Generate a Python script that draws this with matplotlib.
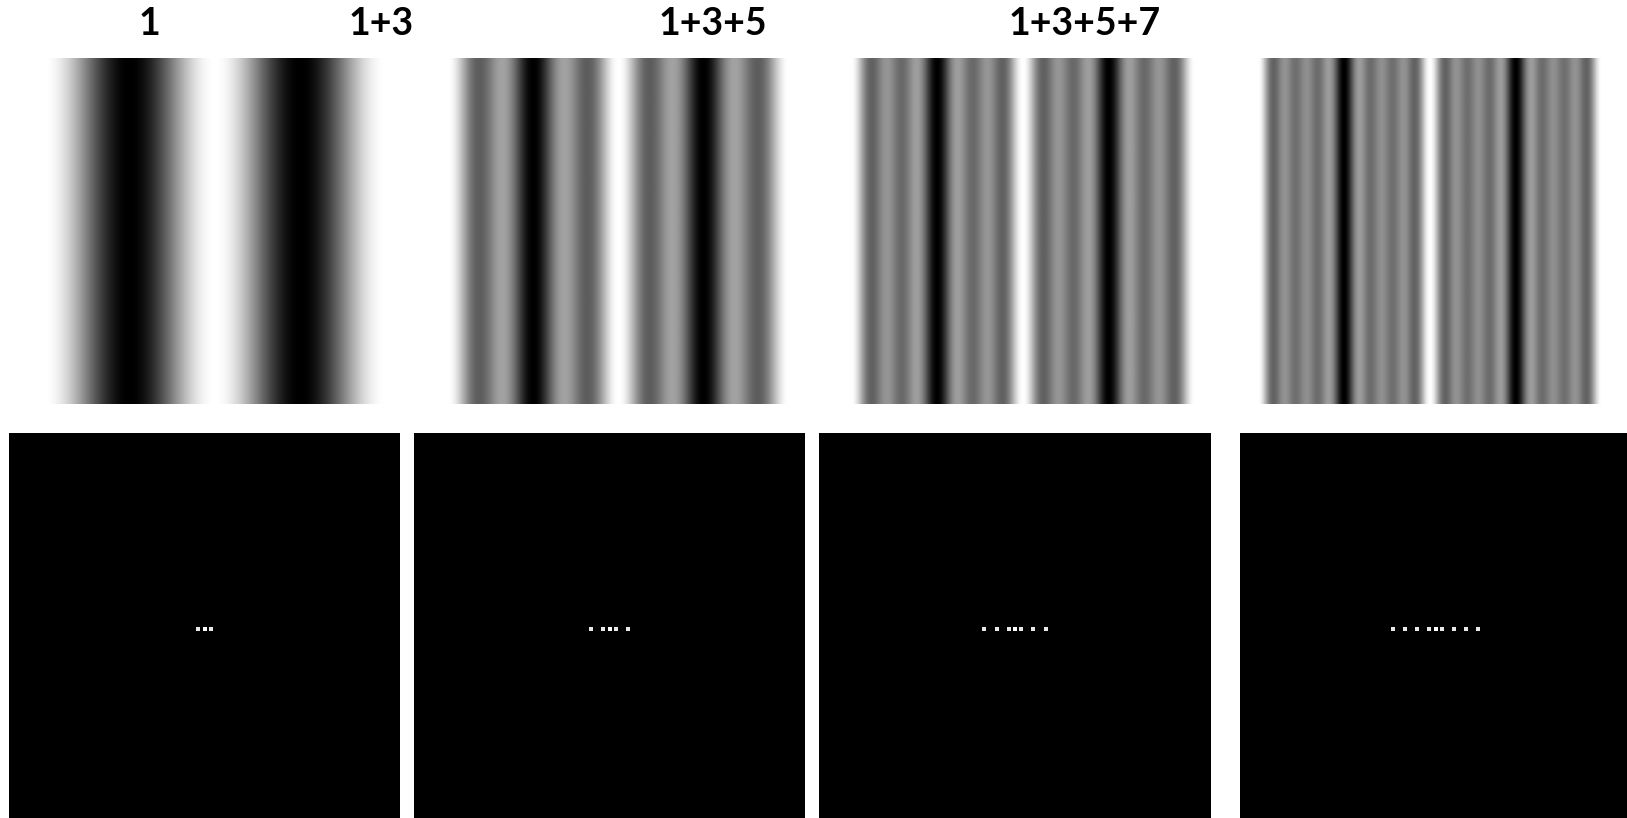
import numpy as np
import matplotlib
matplotlib.use("Agg")
import matplotlib.pyplot as plt

# ---- data ----
titles = ["1", "1+3", "1+3+5", "1+3+5+7"]
harmonics = [[1], [1, 3], [1, 3, 5], [1, 3, 5, 7]]
cycles_per_panel = 2          # fundamental cycles across each grating
title_x_px = [149, 381, 713, 1085]

W, H = 1627, 818
fig = plt.figure(figsize=(W / 100, H / 100), dpi=100)
fig.patch.set_facecolor("white")

def add_ax(x0, y0, x1, y1):
    return fig.add_axes([x0 / W, 1 - y1 / H, (x1 - x0) / W, (y1 - y0) / H])

top_boxes = [(44, 58, 386, 404), (448, 58, 789, 404), (851, 58, 1195, 404), (1258, 58, 1601, 404)]
bot_boxes = [(9, 433, 400, 824), (414, 433, 805, 824), (819, 433, 1211, 824), (1240, 433, 1631, 824)]

x = np.linspace(0, 1, 600)
for i, harm in enumerate(harmonics):
    theta = 2 * np.pi * cycles_per_panel * x
    prof = np.zeros_like(x)
    for h in harm:
        prof += np.cos(h * theta)
    n = len(harm)
    prof = (prof + n) / (2 * n)
    img = np.tile(prof, (20, 1))
    ax = add_ax(*top_boxes[i])
    ax.imshow(img, cmap="gray", vmin=0, vmax=1, aspect="auto", interpolation="bilinear")
    ax.set_axis_off()

    # spectrum panel
    axb = add_ax(*bot_boxes[i])
    axb.set_facecolor("black")
    axb.set_xlim(-32, 32)
    axb.set_ylim(-32, 32)
    fx = []
    for h in harm:
        fx += [h, -h]
    fx = np.array(fx, dtype=float)
    axb.scatter(fx, np.zeros_like(fx), s=5.5, marker="s", c="#e8e8e8", linewidths=0)
    axb.scatter([0], [0], s=8.5, marker="s", c="white", linewidths=0)
    axb.set_xticks([]); axb.set_yticks([])
    for sp in axb.spines.values():
        sp.set_visible(False)

for t, xp in zip(titles, title_x_px):
    fig.text(xp / W, 1 - 24 / H, t, ha="center", va="center", fontsize=27,
             fontweight="bold", family=["Lato", "DejaVu Sans"])

fig.savefig("out.png", dpi=100, facecolor="white")
